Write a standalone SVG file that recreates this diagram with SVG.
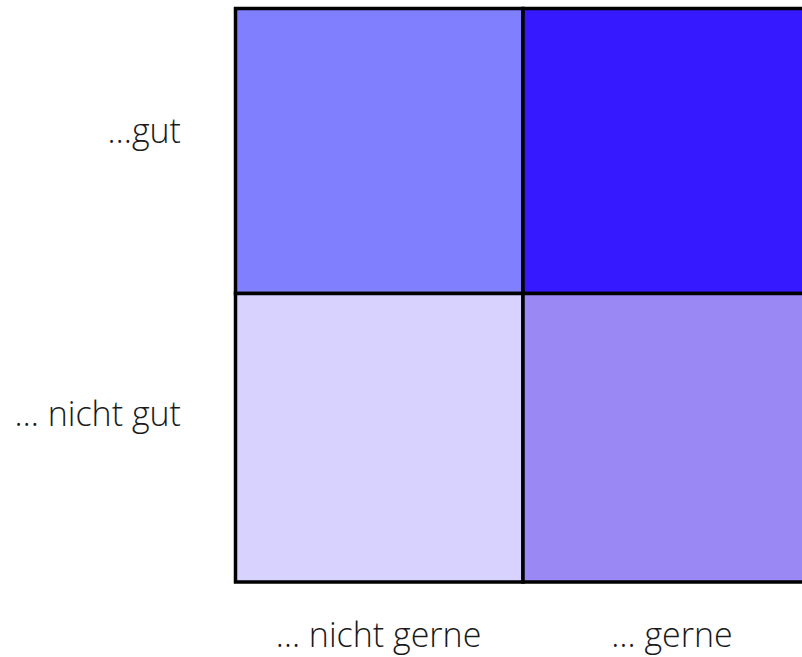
<svg xmlns="http://www.w3.org/2000/svg" width="802" height="657" viewBox="0 0 802 657">
<style>
.lbl{font-family:"Open Sans","Noto Sans",sans-serif;font-weight:300;font-size:34px;fill:#1a1a1a}
.cell{stroke:#000;stroke-width:3.5}
</style>
<rect width="802" height="657" fill="#fff"/>
<g id="cell-tl"><rect class="cell" x="235.5" y="8.5" width="287.5" height="285" fill="#8080ff"/></g>
<g id="cell-tr"><rect class="cell" x="523" y="8.5" width="290" height="285" fill="#3719ff"/></g>
<g id="cell-bl"><rect class="cell" x="235.5" y="293.5" width="287.5" height="288.5" fill="#d7d2ff"/></g>
<g id="cell-br"><rect class="cell" x="523" y="293.5" width="290" height="288.5" fill="#9a88f5"/></g>
<g id="labels">
<text class="lbl" x="181" y="143" text-anchor="end">…gut</text>
<text class="lbl" x="181" y="426" text-anchor="end">… nicht gut</text>
<text class="lbl" x="378.5" y="647" text-anchor="middle">… nicht gerne</text>
<text class="lbl" x="672" y="647" text-anchor="middle">… gerne</text>
</g>
<g id="connectors"></g>
</svg>
